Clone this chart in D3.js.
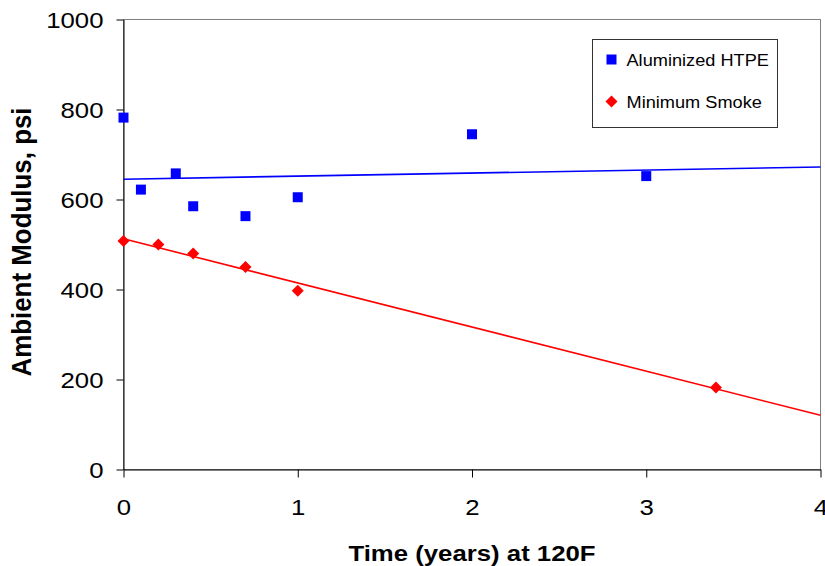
<!DOCTYPE html>
<html>
<head>
<meta charset="utf-8">
<script src="https://cdn.jsdelivr.net/npm/d3@7"></script>
<style>
  html, body { margin: 0; padding: 0; background: #fff; }
  svg { display: block; font-family: "Liberation Sans", Arial, sans-serif; }
</style>
</head>
<body>
<svg id="chart" width="825" height="566"></svg>
<script>
// ---- data ----
const seriesNames = ["Aluminized HTPE", "Minimum Smoke"];
const seriesColors = ["#0000FF", "#FF0000"];
const htpeTime = [0, 0.1, 0.3, 0.4, 0.7, 1, 2, 3];
const htpeModulus = [782, 622, 658, 585, 563, 605, 745, 652];
const smokeTime = [0, 0.2, 0.4, 0.7, 1, 3.4];
const smokeModulus = [508, 500, 480, 450, 397, 182];
const xTicks = [0, 1, 2, 3, 4];
const yTicks = [0, 200, 400, 600, 800, 1000];
const xTitle = "Time (years) at 120F";
const yTitle = "Ambient Modulus, psi";

// ---- layout ----
const SX = 1.12; // horizontal stretch of text seen in reference
const svg = d3.select("#chart");
const pL = 123.5, pR = 820.5, pT = 19.5, pB = 469.5;
const x = d3.scaleLinear().domain([0, 4]).range([pL, pR]);
const y = d3.scaleLinear().domain([0, 1000]).range([pB, pT]);

// plot area border (gray top/right)
svg.append("rect")
  .attr("x", pL).attr("y", pT)
  .attr("width", pR - pL).attr("height", pB - pT)
  .attr("fill", "#fff").attr("stroke", "#808080").attr("stroke-width", 1);

// axes
const fmt = d3.format("d");
const gy = svg.append("g").attr("transform", `translate(${pL},0)`)
  .call(d3.axisLeft(y).tickValues(yTicks).tickFormat(fmt).tickSize(7).tickPadding(0).tickSizeOuter(0));
const gx = svg.append("g").attr("transform", `translate(0,${pB})`)
  .call(d3.axisBottom(x).tickValues(xTicks).tickFormat(fmt).tickSize(8).tickPadding(0).tickSizeOuter(0));
[gy, gx].forEach(g => {
  g.select(".domain").attr("stroke", "#000").attr("stroke-width", 1);
  g.selectAll(".tick line").attr("stroke", "#000").attr("stroke-width", 1);
  g.selectAll(".tick text").attr("fill", "#000").attr("font-size", 23)
    .attr("font-family", "Liberation Sans, Arial, sans-serif");
});
gy.selectAll(".tick text")
  .attr("x", null).attr("dy", null)
  .attr("text-anchor", "end")
  .attr("transform", `translate(-20,8) scale(${SX},1)`);
gx.selectAll(".tick text")
  .attr("y", null).attr("dy", null)
  .attr("text-anchor", "middle")
  .attr("transform", `translate(0,45.5) scale(${SX},1)`);

// regression helper
function fit(xs, ys) {
  const mx = d3.mean(xs), my = d3.mean(ys);
  let sxy = 0, sxx = 0;
  xs.forEach((v, i) => { sxy += (v - mx) * (ys[i] - my); sxx += (v - mx) * (v - mx); });
  const b = sxy / sxx;
  return { slope: b, intercept: my - b * mx };
}
const line = d3.line().x(d => x(d[0])).y(d => y(d[1]));
[[htpeTime, htpeModulus, 0], [smokeTime, smokeModulus, 1]].forEach(([xs, ys, k]) => {
  const f = fit(xs, ys);
  const pts = x.domain().map(t => [t, f.intercept + f.slope * t]);
  svg.append("path").attr("d", line(pts))
    .attr("fill", "none").attr("stroke", seriesColors[k]).attr("stroke-width", 1.6);
});

// markers
const square = d3.symbol().type(d3.symbolSquare).size(100);
const diamond = d3.symbol().type(d3.symbolSquare).size(72);
svg.append("g").selectAll("path").data(htpeTime.map((t, i) => [t, htpeModulus[i]]))
  .join("path").attr("d", square)
  .attr("transform", d => `translate(${x(d[0])},${y(d[1])})`)
  .attr("fill", seriesColors[0]);
svg.append("g").selectAll("path").data(smokeTime.map((t, i) => [t, smokeModulus[i]]))
  .join("path").attr("d", diamond)
  .attr("transform", d => `translate(${x(d[0])},${y(d[1])}) rotate(45)`)
  .attr("fill", seriesColors[1]);

// axis titles
svg.append("text").text(xTitle)
  .attr("text-anchor", "middle").attr("font-weight", "bold").attr("font-size", 23)
  .attr("transform", `translate(${(pL + pR) / 2},560.5) scale(${SX},1)`);
svg.append("text").text(yTitle)
  .attr("text-anchor", "middle").attr("font-weight", "bold").attr("font-size", 24)
  .attr("transform", `translate(31,242) scale(${SX},1) rotate(-90) scale(1.08,1)`);

// legend
const lg = svg.append("g");
lg.append("rect").attr("x", 592.5).attr("y", 39.5).attr("width", 185).attr("height", 88)
  .attr("fill", "#fff").attr("stroke", "#333").attr("stroke-width", 1);
const legendY = [59.5, 101.5];
lg.append("path").attr("d", d3.symbol().type(d3.symbolSquare).size(100))
  .attr("transform", `translate(611.5,${legendY[0]})`).attr("fill", seriesColors[0]);
lg.append("path").attr("d", d3.symbol().type(d3.symbolSquare).size(72))
  .attr("transform", `translate(611.5,${legendY[1]}) rotate(45)`).attr("fill", seriesColors[1]);
seriesNames.forEach((n, i) => {
  lg.append("text").text(n).attr("font-size", 17)
    .attr("transform", `translate(626.5,${legendY[i] + 6}) scale(1.07,1)`);
});
</script>
</body>
</html>
